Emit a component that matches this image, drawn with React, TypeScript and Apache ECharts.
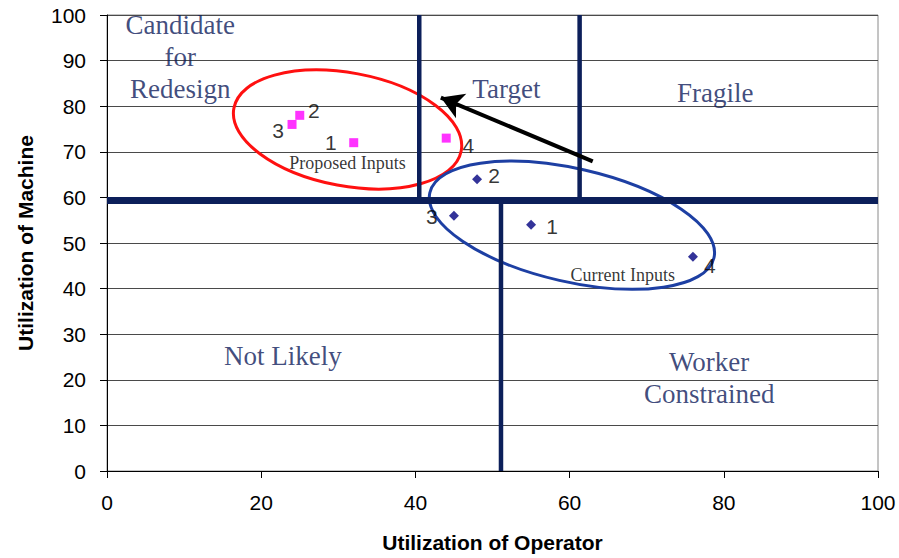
import React, { useEffect, useRef } from "react";
import * as echarts from "echarts";

// ---- Data ----
const proposedInputs: number[][] = [
  [32, 72],
  [25, 78],
  [24, 76],
  [44, 73],
];
const proposedNames = ["1", "2", "3", "4"];
const currentInputs: number[][] = [
  [55, 54],
  [48, 64],
  [45, 56],
  [76, 47],
];
const currentNames = ["1", "2", "3", "4"];

// quadrant boundary segments [x1, y1, x2, y2]
const boundaryH: number[][] = [[0, 59.3, 100, 59.3]];
const boundaryV: number[][] = [
  [40.5, 100, 40.5, 59.3],
  [61.3, 100, 61.3, 59.3],
  [51.1, 59.3, 51.1, 0],
];

// arrow: from -> to
const arrowFrom = [63.0, 67.9];
const arrowTo = [43.3, 81.9];

// ellipses: [centerX, centerY, radiusX (x units), radiusY (y units), rotationDeg]
const proposedEllipse = [31.2, 74.9, 15.0, 12.4, -10.6];
const currentEllipse = [60.3, 53.9, 18.9, 12.4, -12.9];

// quadrant annotations: [x, y, text]
const quadrantLabels: [number, number, string][] = [
  [9.5, 90.8, "Candidate\nfor\nRedesign"],
  [51.8, 83.8, "Target"],
  [78.9, 83.0, "Fragile"],
  [22.8, 25.3, "Not Likely"],
  [78.1, 20.3, "Worker\nConstrained"],
];
const groupLabels: [number, number, string][] = [
  [31.2, 67.5, "Proposed Inputs"],
  [66.9, 43.0, "Current Inputs"],
];

const xTicks = { min: 0, max: 100, interval: 20 };
const yTicks = { min: 0, max: 100, interval: 10 };

// label placement (pixels)
const proposedLabelOffsets = [
  [-23, 0],
  [14, -5],
  [-14, 6],
  [22, 7],
];
const currentLabelOffsets = [
  [21, 2],
  [17, -4],
  [-22, 1],
  [17, 9],
];

const NAVY = "#0c1f5a";
const TEXT_NAVY = "#0f1d5c";

function ellipseSeries(params: number[], color: string) {
  return {
    type: "custom",
    silent: true,
    z: 3,
    data: [params],
    encode: { x: 0, y: 1 },
    renderItem: (_p: any, api: any) => {
      const c = api.coord([api.value(0), api.value(1)]);
      const s = api.size([api.value(2), api.value(3)]);
      return {
        type: "ellipse",
        x: c[0],
        y: c[1],
        rotation: (api.value(4) * Math.PI) / 180,
        shape: { cx: 0, cy: 0, rx: s[0], ry: s[1] },
        style: { fill: "none", stroke: color, lineWidth: 3 },
      };
    },
  };
}

export default function App() {
  const ref = useRef<HTMLDivElement>(null);
  useEffect(() => {
    if (!ref.current) return;
    const chart = echarts.init(ref.current, undefined, { renderer: "svg" });

    const segSeries = (segs: number[][], width: number) =>
      segs.map((s) => ({
        type: "line",
        silent: true,
        z: 4,
        symbol: "none",
        data: [
          [s[0], s[1]],
          [s[2], s[3]],
        ],
        lineStyle: { color: NAVY, width },
      }));

    const pointLabelStyle = {
      fontFamily: "Liberation Sans, Arial, sans-serif",
      fontSize: 21,
      color: "#000",
      textBorderWidth: 0,
    };

    chart.setOption({
      animation: false,
      backgroundColor: "#fff",
      grid: { left: 107, right: 21, top: 15, bottom: 85, show: true, borderColor: "#8a8a8a", borderWidth: 1 },
      xAxis: {
        type: "value",
        min: xTicks.min,
        max: xTicks.max,
        interval: xTicks.interval,
        name: "Utilization of Operator",
        nameLocation: "middle",
        nameGap: 61,
        nameTextStyle: { fontFamily: "Liberation Sans, Arial, sans-serif", fontWeight: "bold", fontSize: 21, color: "#000" },
        axisLine: { show: true, onZero: false, lineStyle: { color: "#000", width: 1 } },
        axisTick: { show: true, length: 7, lineStyle: { color: "#000" } },
        axisLabel: { margin: 21, fontFamily: "Liberation Sans, Arial, sans-serif", fontSize: 21, color: "#000" },
        splitLine: { show: false },
      },
      yAxis: {
        type: "value",
        min: yTicks.min,
        max: yTicks.max,
        interval: yTicks.interval,
        name: "Utilization of Machine",
        nameLocation: "middle",
        nameGap: 71,
        nameTextStyle: { fontFamily: "Liberation Sans, Arial, sans-serif", fontWeight: "bold", fontSize: 21, color: "#000" },
        axisLine: { show: true, onZero: false, lineStyle: { color: "#000", width: 1 } },
        axisTick: { show: true, length: 7, lineStyle: { color: "#000" } },
        axisLabel: { margin: 21, fontFamily: "Liberation Sans, Arial, sans-serif", fontSize: 21, color: "#000" },
        splitLine: { show: true, lineStyle: { color: "#4a4a4a", width: 1 } },
      },
      series: [
        ellipseSeries(proposedEllipse, "#ff1010"),
        ellipseSeries(currentEllipse, "#1d3fa3"),
        ...segSeries(boundaryH, 7),
        ...segSeries(boundaryV, 4.5),
        {
          type: "line",
          silent: true,
          z: 5,
          symbol: "none",
          data: [],
          markLine: {
            silent: true,
            symbol: ["none", "arrow"],
            symbolSize: [20, 22],
            label: { show: false },
            lineStyle: { color: "#000", width: 4, type: "solid" },
            data: [[{ coord: arrowFrom }, { coord: arrowTo }]],
          },
        },
        {
          type: "scatter",
          z: 6,
          symbol: "rect",
          symbolSize: 9,
          itemStyle: { color: "#ff00ff" },
          data: proposedInputs.map((v, i) => ({
            value: v,
            name: proposedNames[i],
            label: { show: true, position: "inside", offset: proposedLabelOffsets[i], formatter: "{b}", ...pointLabelStyle },
          })),
        },
        {
          type: "scatter",
          z: 6,
          symbol: "diamond",
          symbolSize: 10,
          itemStyle: { color: "#000080" },
          data: currentInputs.map((v, i) => ({
            value: v,
            name: currentNames[i],
            label: { show: true, position: "inside", offset: currentLabelOffsets[i], formatter: "{b}", ...pointLabelStyle },
          })),
        },
        {
          type: "scatter",
          z: 7,
          silent: true,
          symbolSize: 0,
          data: quadrantLabels.map((q) => ({ value: [q[0], q[1]], name: q[2] })),
          label: {
            show: true,
            position: "inside",
            formatter: "{b}",
            fontFamily: "Liberation Serif, Times New Roman, serif",
            fontSize: 27,
            lineHeight: 32,
            color: TEXT_NAVY,
            textBorderWidth: 0,
            align: "center",
          },
        },
        {
          type: "scatter",
          z: 7,
          silent: true,
          symbolSize: 0,
          data: groupLabels.map((q) => ({ value: [q[0], q[1]], name: q[2] })),
          label: {
            show: true,
            position: "inside",
            formatter: "{b}",
            fontFamily: "Liberation Serif, Times New Roman, serif",
            fontSize: 18,
            color: "#000",
            textBorderWidth: 0,
          },
        },
      ],
    });
    return () => chart.dispose();
  }, []);
  return <div ref={ref} style={{ position: "absolute", left: 0, top: 0, width: 899, height: 558 }} />;
}
